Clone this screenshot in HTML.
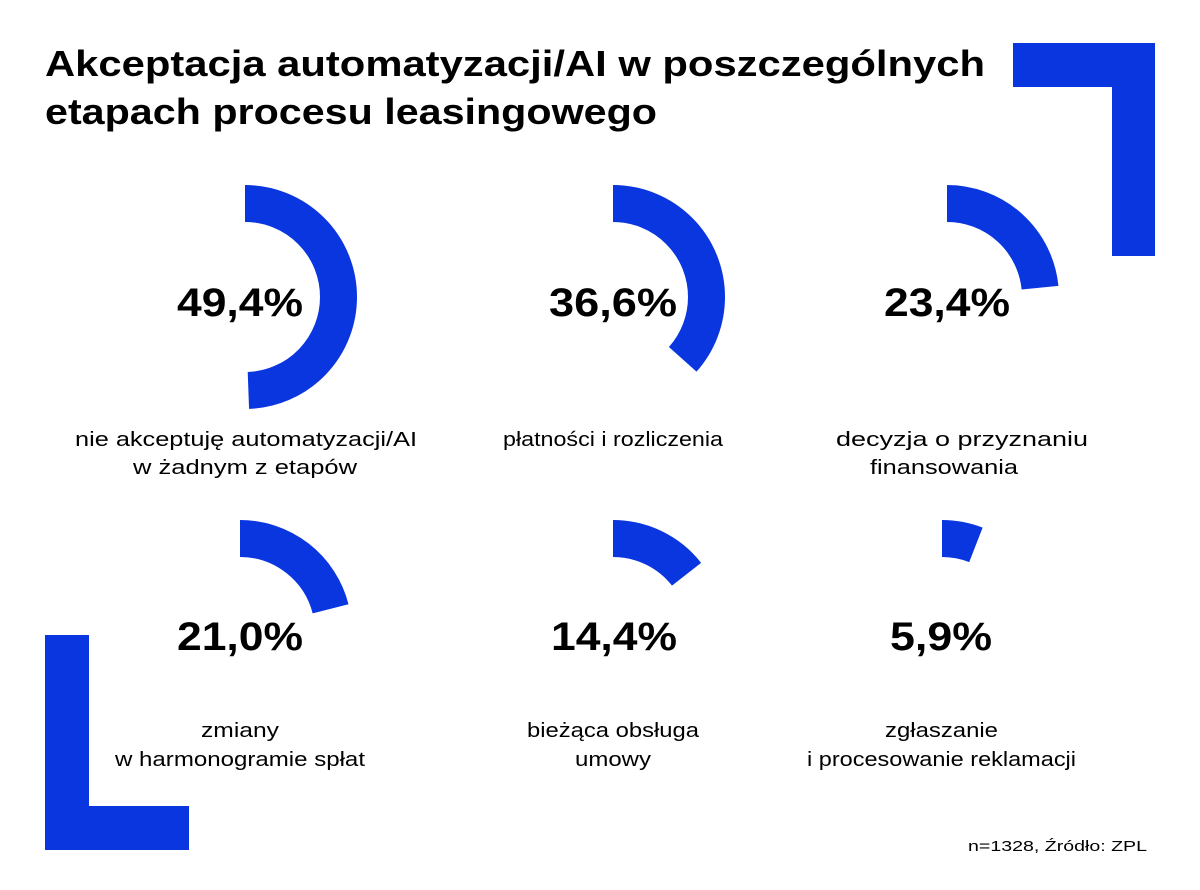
<!DOCTYPE html>
<html><head><meta charset="utf-8"><style>
html,body{margin:0;padding:0;background:#fff;}
svg{display:block;font-family:"Liberation Sans",sans-serif;}
</style></head><body>
<svg width="1200" height="890" viewBox="0 0 1200 890" xmlns="http://www.w3.org/2000/svg">
<rect width="1200" height="890" fill="#fff"/>
<g fill="#0a36e0">
<rect x="1013" y="43" width="142" height="44"/>
<rect x="1112" y="43" width="43" height="213"/>
<rect x="45" y="635" width="44" height="215"/>
<rect x="45" y="806" width="144" height="44"/>
</g>
<g font-size="36" font-weight="bold" fill="#000" lengthAdjust="spacingAndGlyphs">
<text x="45" y="76" textLength="940" lengthAdjust="spacingAndGlyphs">Akceptacja automatyzacji/AI w poszczególnych</text>
<text x="45" y="124" textLength="612" lengthAdjust="spacingAndGlyphs">etapach procesu leasingowego</text>
</g>
<g fill="none" stroke="#0a36e0" stroke-width="37">
<circle cx="245" cy="297" r="93.5" stroke-dasharray="290.2 600" transform="rotate(-90 245 297)"/>
<circle cx="613" cy="297" r="93.5" stroke-dasharray="215.0 600" transform="rotate(-90 613 297)"/>
<circle cx="947" cy="297" r="93.5" stroke-dasharray="137.5 600" transform="rotate(-90 947 297)"/>
<circle cx="240" cy="632" r="93.5" stroke-dasharray="123.4 600" transform="rotate(-90 240 632)"/>
<circle cx="613" cy="632" r="93.5" stroke-dasharray="84.6 600" transform="rotate(-90 613 632)"/>
<circle cx="942" cy="632" r="93.5" stroke-dasharray="34.7 600" transform="rotate(-90 942 632)"/>
</g>
<g font-size="40" font-weight="bold" fill="#000">
<text x="177" y="316" textLength="126" lengthAdjust="spacingAndGlyphs">49,4%</text>
<text x="549" y="316" textLength="128" lengthAdjust="spacingAndGlyphs">36,6%</text>
<text x="884" y="316" textLength="126" lengthAdjust="spacingAndGlyphs">23,4%</text>
<text x="177" y="650" textLength="126" lengthAdjust="spacingAndGlyphs">21,0%</text>
<text x="551" y="650" textLength="126" lengthAdjust="spacingAndGlyphs">14,4%</text>
<text x="890" y="650" textLength="102" lengthAdjust="spacingAndGlyphs">5,9%</text>
</g>
<g font-size="20" fill="#000">
<text x="75" y="446" textLength="342" lengthAdjust="spacingAndGlyphs">nie akceptuję automatyzacji/AI</text>
<text x="133" y="474" textLength="224" lengthAdjust="spacingAndGlyphs">w żadnym z etapów</text>
<text x="503" y="446" textLength="220" lengthAdjust="spacingAndGlyphs">płatności i rozliczenia</text>
<text x="836" y="446" textLength="252" lengthAdjust="spacingAndGlyphs">decyzja o przyznaniu</text>
<text x="870" y="474" textLength="148" lengthAdjust="spacingAndGlyphs">finansowania</text>
<text x="201" y="737" textLength="78" lengthAdjust="spacingAndGlyphs">zmiany</text>
<text x="115" y="766" textLength="250" lengthAdjust="spacingAndGlyphs">w harmonogramie spłat</text>
<text x="527" y="737" textLength="172" lengthAdjust="spacingAndGlyphs">bieżąca obsługa</text>
<text x="575" y="766" textLength="76" lengthAdjust="spacingAndGlyphs">umowy</text>
<text x="885" y="737" textLength="113" lengthAdjust="spacingAndGlyphs">zgłaszanie</text>
<text x="807" y="766" textLength="269" lengthAdjust="spacingAndGlyphs">i procesowanie reklamacji</text>
</g>
<text x="968" y="851" font-size="15" fill="#000" textLength="179" lengthAdjust="spacingAndGlyphs">n=1328, Źródło: ZPL</text>
</svg>
</body></html>
